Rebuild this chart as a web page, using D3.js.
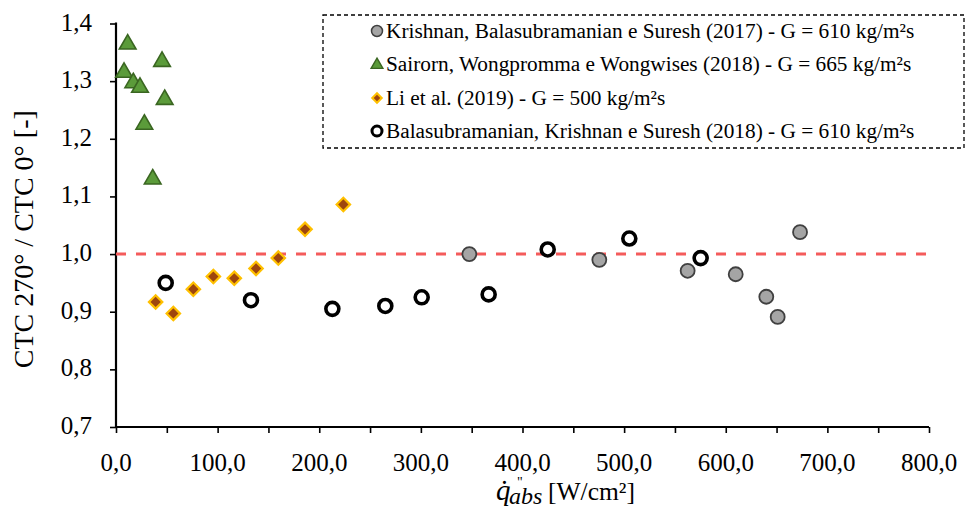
<!DOCTYPE html>
<html>
<head>
<meta charset="UTF-8">
<title>CTC ratio</title>
<style>
  html, body { margin: 0; padding: 0; background: #fff; }
  svg { display: block; }
  svg text { font-family: "Liberation Serif", "Times New Roman", serif; }
</style>
</head>
<body>
<svg width="966" height="513"></svg>
<script src="https://d3js.org/d3.v7.min.js"></script>
<script>
// data
var krishnanX = [347.7, 475.6, 562.5, 609.8, 639.9, 651.1, 673.1];
var krishnanY = [1.000, 0.990, 0.971, 0.965, 0.926, 0.891, 1.038];

var sairornX = [11.5, 7.9, 17.0, 23.6, 45.3, 47.9, 27.9, 36.1];
var sairornY = [1.364, 1.315, 1.297, 1.289, 1.334, 1.268, 1.225, 1.130];

var liX = [39.0, 56.4, 76.1, 95.8, 116.4, 137.8, 159.7, 186.0, 223.7];
var liY = [0.917, 0.897, 0.939, 0.961, 0.958, 0.975, 0.993, 1.043, 1.086];

var balaX = [48.9, 132.8, 212.9, 265.0, 300.8, 366.7, 424.8, 505.1, 575.3];
var balaY = [0.950, 0.920, 0.905, 0.910, 0.925, 0.930, 1.008, 1.027, 0.993];

var legendLabels = [
  "Krishnan, Balasubramanian e Suresh (2017) - G = 610 kg/m²s",
  "Sairorn, Wongpromma e Wongwises (2018) - G = 665 kg/m²s",
  "Li et al. (2019) - G = 500 kg/m²s",
  "Balasubramanian, Krishnan e Suresh (2018) - G = 610 kg/m²s"
];

var xTicks = d3.range(0, 801, 100);
var yTicks = [0.7, 0.8, 0.9, 1.0, 1.1, 1.2, 1.3, 1.4];
var fmt = function (d) { return d3.format(".1f")(d).replace(".", ","); };

// layout
var svg = d3.select("svg");
var serif = "Liberation Serif";
var pLeft = 116, pRight = 929, pTop = 23.5, pBottom = 427;

var x = d3.scaleLinear().domain([0, 800]).range([pLeft, pRight]);
var y = d3.scaleLinear().domain([0.7, 1.4]).range([pBottom, pTop]);

// axes
var xAxis = svg.append("g")
  .attr("transform", "translate(0," + pBottom + ")")
  .call(d3.axisBottom(x).tickValues(d3.range(0, 801, 50)).tickSize(6).tickFormat(""));
var yAxis = svg.append("g")
  .attr("transform", "translate(" + pLeft + ",0)")
  .call(d3.axisLeft(y).tickValues(yTicks).tickSize(6).tickFormat(""));
xAxis.select(".domain").remove();
yAxis.select(".domain").remove();
svg.selectAll(".tick line").attr("stroke", "#000").attr("stroke-width", 1.6);

svg.append("line").attr("x1", pLeft).attr("x2", pRight).attr("y1", pBottom).attr("y2", pBottom)
  .attr("stroke", "#000").attr("stroke-width", 2.2);
svg.append("line").attr("x1", pLeft).attr("x2", pLeft).attr("y1", pTop - 1).attr("y2", pBottom + 1)
  .attr("stroke", "#000").attr("stroke-width", 2.2);

svg.selectAll(".xlab").data(xTicks).enter().append("text")
  .attr("font-family", serif)
  .attr("x", function (d) { return x(d); })
  .attr("y", pBottom + 44)
  .attr("text-anchor", "middle")
  .attr("font-size", 25)
  .text(fmt);

svg.selectAll(".ylab").data(yTicks).enter().append("text")
  .attr("font-family", serif)
  .attr("x", pLeft - 24)
  .attr("y", function (d) { return y(d) + 7; })
  .attr("text-anchor", "end")
  .attr("font-size", 25)
  .text(fmt);

// axis titles
svg.append("text")
  .attr("font-family", serif)
  .attr("transform", "translate(33," + ((pTop + pBottom) / 2 + 14) + ") rotate(-90)")
  .attr("text-anchor", "middle")
  .attr("font-size", 28)
  .text("CTC 270° / CTC 0° [-]");

var xt = svg.append("g").attr("font-family", serif);
xt.append("text").attr("x", 496).attr("y", 500).attr("font-size", 29).attr("font-style", "italic").text("q\u0307");
xt.append("text").attr("x", 517).attr("y", 487).attr("font-size", 14).text("\"");
xt.append("text").attr("x", 509).attr("y", 504).attr("font-style", "italic").attr("font-size", 24).text("abs");
xt.append("text").attr("x", 548).attr("y", 500).attr("font-size", 25.5).text("[W/cm²]");

// reference line
svg.append("line")
  .attr("x1", x(0)).attr("x2", x(800))
  .attr("y1", y(1)).attr("y2", y(1))
  .attr("stroke", "#f45b5b").attr("stroke-width", 3)
  .attr("stroke-dasharray", "10,10");

// markers
function circles(xs, ys, r, fill, stroke, sw) {
  svg.append("g").selectAll("circle").data(xs).enter().append("circle")
    .attr("cx", function (d) { return x(d); })
    .attr("cy", function (d, i) { return y(ys[i]); })
    .attr("r", r).attr("fill", fill).attr("stroke", stroke).attr("stroke-width", sw);
}

circles(krishnanX, krishnanY, 7, "#a5a5a5", "#404040", 1.8);

svg.append("g").selectAll("path").data(sairornX).enter().append("path")
  .attr("transform", function (d, i) { return "translate(" + x(d) + "," + y(sairornY[i]) + ")"; })
  .attr("d", d3.symbol().type(d3.symbolTriangle).size(120))
  .attr("fill", "#5b9b3a").attr("stroke", "#3a6621").attr("stroke-width", 1.6);

svg.append("g").selectAll("path").data(liX).enter().append("path")
  .attr("transform", function (d, i) { return "translate(" + x(d) + "," + y(liY[i]) + ") rotate(45)"; })
  .attr("d", d3.symbol().type(d3.symbolSquare).size(90))
  .attr("fill", "#9e460e").attr("stroke", "#ffc000").attr("stroke-width", 2.2);

circles(balaX, balaY, 6.5, "#fff", "#000", 3.6);

// legend
var lg = svg.append("g");
lg.append("rect")
  .attr("x", 323).attr("y", 15).attr("width", 641).attr("height", 133)
  .attr("fill", "#fff").attr("stroke", "#000").attr("stroke-width", 1.3)
  .attr("stroke-dasharray", "4,3");

var rowY = [31, 64, 98, 131];
var mx = 377;
lg.append("circle").attr("cx", mx).attr("cy", rowY[0]).attr("r", 5.5)
  .attr("fill", "#a5a5a5").attr("stroke", "#404040").attr("stroke-width", 1.5);
lg.append("path").attr("transform", "translate(" + mx + "," + (rowY[1] + 1) + ")")
  .attr("d", d3.symbol().type(d3.symbolTriangle).size(60))
  .attr("fill", "#5b9b3a").attr("stroke", "#3a6621").attr("stroke-width", 1.4);
lg.append("path").attr("transform", "translate(" + mx + "," + rowY[2] + ") rotate(45)")
  .attr("d", d3.symbol().type(d3.symbolSquare).size(45))
  .attr("fill", "#9e460e").attr("stroke", "#ffc000").attr("stroke-width", 2);
lg.append("circle").attr("cx", mx).attr("cy", rowY[3]).attr("r", 5)
  .attr("fill", "#fff").attr("stroke", "#000").attr("stroke-width", 3);

lg.selectAll(".lt").data(legendLabels).enter().append("text")
  .attr("font-family", serif)
  .attr("x", 386)
  .attr("y", function (d, i) { return rowY[i] + 7; })
  .attr("font-size", 21.3)
  .text(function (d) { return d; });
</script>
</body>
</html>
